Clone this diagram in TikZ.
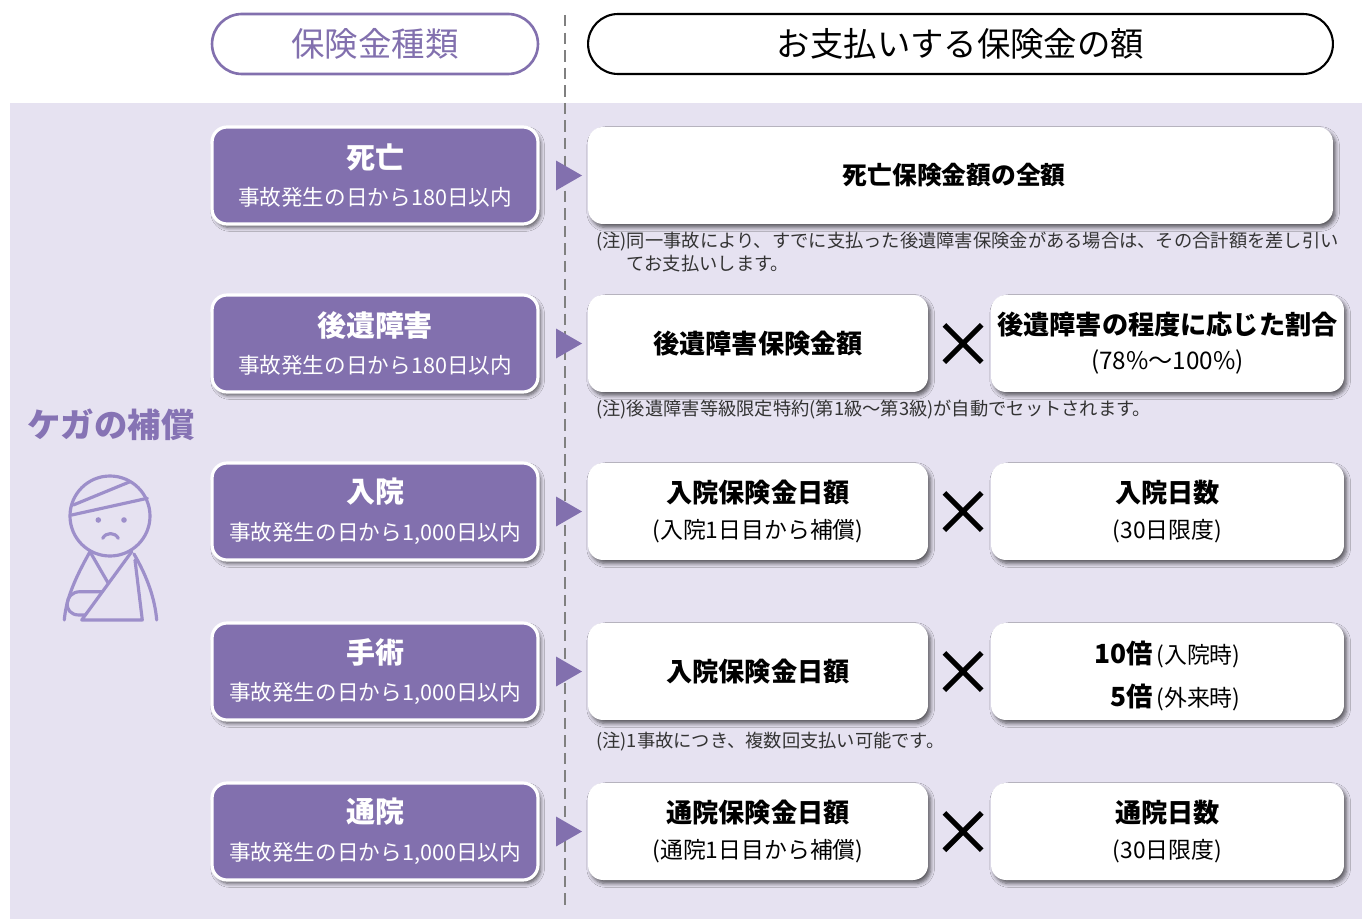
\documentclass[tikz,border=0pt]{standalone}
\usepackage{fontspec}
\setmainfont{Noto Sans CJK JP}
\usepackage{xcolor}
\usepackage{tikz}
\usetikzlibrary{shapes.misc,shadows,shadows.blur}
\definecolor{kindpurple}{HTML}{8270AE}
\definecolor{bglav}{HTML}{E6E2F1}
\definecolor{iconpurple}{HTML}{9D8FCA}
\definecolor{labelpurple}{HTML}{8673B4}
\definecolor{notegray}{HTML}{333333}
\newcommand{\kindttl}[1]{{\bfseries\fontsize{16.5}{21.5}\selectfont #1}}
\newcommand{\payttl}[1]{{\bfseries\fontsize{14.9}{20}\selectfont #1}}

\begin{document}
\begin{tikzpicture}[x=0.02cm,y=-0.02cm,
    kindbox/.style={fill=kindpurple, draw=white, line width=1.8pt, rounded corners=0.3cm,
      minimum width=6.52cm, minimum height=1.94cm, text=white, align=center,
      blur shadow={shadow xshift=1.5pt, shadow yshift=-2pt, shadow blur steps=6,
        shadow blur extra rounding=1pt, shadow opacity=60},
      font=\fontsize{12.3}{21.5}\selectfont},
    paybox/.style={fill=white, rounded corners=0.3cm, minimum height=1.94cm, align=center,
      blur shadow={shadow xshift=1.5pt, shadow yshift=-2pt, shadow blur steps=6,
        shadow blur extra rounding=1pt, shadow opacity=60},
      font=\fontsize{13}{20}\selectfont},
    times/.style={cross out, draw=black, line width=3pt, minimum size=0.64cm, inner sep=0pt},
    notetext/.style={anchor=west, text=notegray, align=left, inner sep=0pt,
      font=\fontsize{10.4}{13}\selectfont},
    figline/.style={draw=iconpurple, line width=1.8pt, line cap=round, line join=round}]
  \useasboundingbox (0,0) rectangle (1362,919);
  \fill[bglav] (10,103) rectangle (1362,919);
  \draw[gray, line width=1pt, dash pattern=on 6.5pt off 3.5pt] (565,15) -- (565,910);

  % headings
  \node[draw=kindpurple, line width=1.5pt, fill=white, rounded corners=0.6cm,
    minimum width=6.52cm, minimum height=1.2cm, text=kindpurple,
    font=\fontsize{19}{23}\selectfont] (headkind) at (375,44) {保険金種類};
  \node[draw=black, line width=1.2pt, fill=white, rounded corners=0.6cm,
    minimum width=14.9cm, minimum height=1.2cm,
    font=\fontsize{19}{23}\selectfont] (headpay) at (960.5,44) {お支払いする保険金の額};

  % injured person
  \node[text=labelpurple, font=\bfseries\fontsize{19}{23}\selectfont] (injury) at (111,425) {ケガの補償};
  \draw[figline] (110,516) circle[radius=40];
  \draw[figline] (73.3,505) -- (130,481.7);
  \draw[figline] (71.7,515) -- (147.3,498.3);
  \fill[iconpurple] (98.3,520) circle[radius=2.8] (124,520) circle[radius=2.8];
  \draw[figline] (102.7,538.3) .. controls (106,532) and (115,532) .. (118.3,538.3);
  \draw[figline] (90,551.7) .. controls (74,580) and (66,600) .. (64.3,620);
  \draw[figline] (134,554) .. controls (148,578) and (155,600) .. (156.7,620);
  \draw[figline] (90,551.7) -- (108.3,583.3);
  \draw[figline] (131.7,551.7) -- (81.7,620) -- (142.3,620) -- (135,560);
  \draw[figline] (102.4,591.7) -- (80,591.7) .. controls (64,591.7) and (62,615) .. (79,615) -- (85.4,615);

  % pointers
  \foreach \y in {175.5,343.5,511.5,671.5,831.5}
    \fill[kindpurple] (556,\y-15) -- (582,\y) -- (556,\y+15) -- cycle;

  % kinds of payment
  \node[kindbox] (death) at (375,175.5) {\kindttl{死亡}\\事故発生の日から180日以内};
  \node[kindbox] (disab) at (375,343.5) {\kindttl{後遺障害}\\事故発生の日から180日以内};
  \node[kindbox] (hosp) at (375,511.5) {\kindttl{入院}\\事故発生の日から1,000日以内};
  \node[kindbox] (surg) at (375,671.5) {\kindttl{手術}\\事故発生の日から1,000日以内};
  \node[kindbox] (outp) at (375,831.5) {\kindttl{通院}\\事故発生の日から1,000日以内};

  % amounts
  \node[paybox, minimum width=14.9cm] (deathpay) at (960.5,175.5)
    {{\bfseries\fontsize{14.1}{20}\selectfont 死亡保険金額の全額}\hspace*{0.25cm}};
  \node[paybox, minimum width=6.8cm] (disabpay) at (758,343.5) {\payttl{後遺障害保険金額}};
  \node[paybox, minimum width=7.06cm] (disabrate) at (1167.5,343.5)
    {\payttl{後遺障害の程度に応じた割合}\\{\fontsize{13.8}{20}\selectfont(78\%～100\%)}};
  \node[paybox, minimum width=6.8cm] (hosppay) at (758,511.5)
    {\payttl{入院保険金日額}\\(入院1日目から補償)};
  \node[paybox, minimum width=7.06cm] (hospdays) at (1167.5,511.5)
    {\payttl{入院日数}\\(30日限度)};
  \node[paybox, minimum width=6.8cm] (surgpay) at (758,671.5) {\payttl{入院保険金日額}};
  \node[paybox, minimum width=7.06cm, align=right, font=\fontsize{13}{24}\selectfont] (surgrate) at (1167.5,671.5)
    {\rule{0pt}{18pt}{\bfseries\fontsize{15}{24}\selectfont 10倍}\kern2pt(入院時)\\
     {\bfseries\fontsize{15}{24}\selectfont 5倍}\kern2pt(外来時)};
  \node[paybox, minimum width=6.8cm] (outppay) at (758,831.5)
    {\payttl{通院保険金日額}\\(通院1日目から補償)};
  \node[paybox, minimum width=7.06cm] (outpdays) at (1167.5,831.5)
    {\payttl{通院日数}\\(30日限度)};

  \foreach \y in {343.5,511.5,671.5,831.5}
    \node[times] at (963,\y) {};

  % notes
  \node[notetext] (note1) at (596,253)
    {(注)同一事故により、すでに支払った後遺障害保険金がある場合は、その合計額を差し引い\\\phantom{(注)}てお支払いします。};
  \node[notetext] (note2) at (596,410) {(注)後遺障害等級限定特約(第1級～第3級)が自動でセットされます。};
  \node[notetext] (note4) at (596,742) {(注)1事故につき、複数回支払い可能です。};
\end{tikzpicture}
\end{document}
